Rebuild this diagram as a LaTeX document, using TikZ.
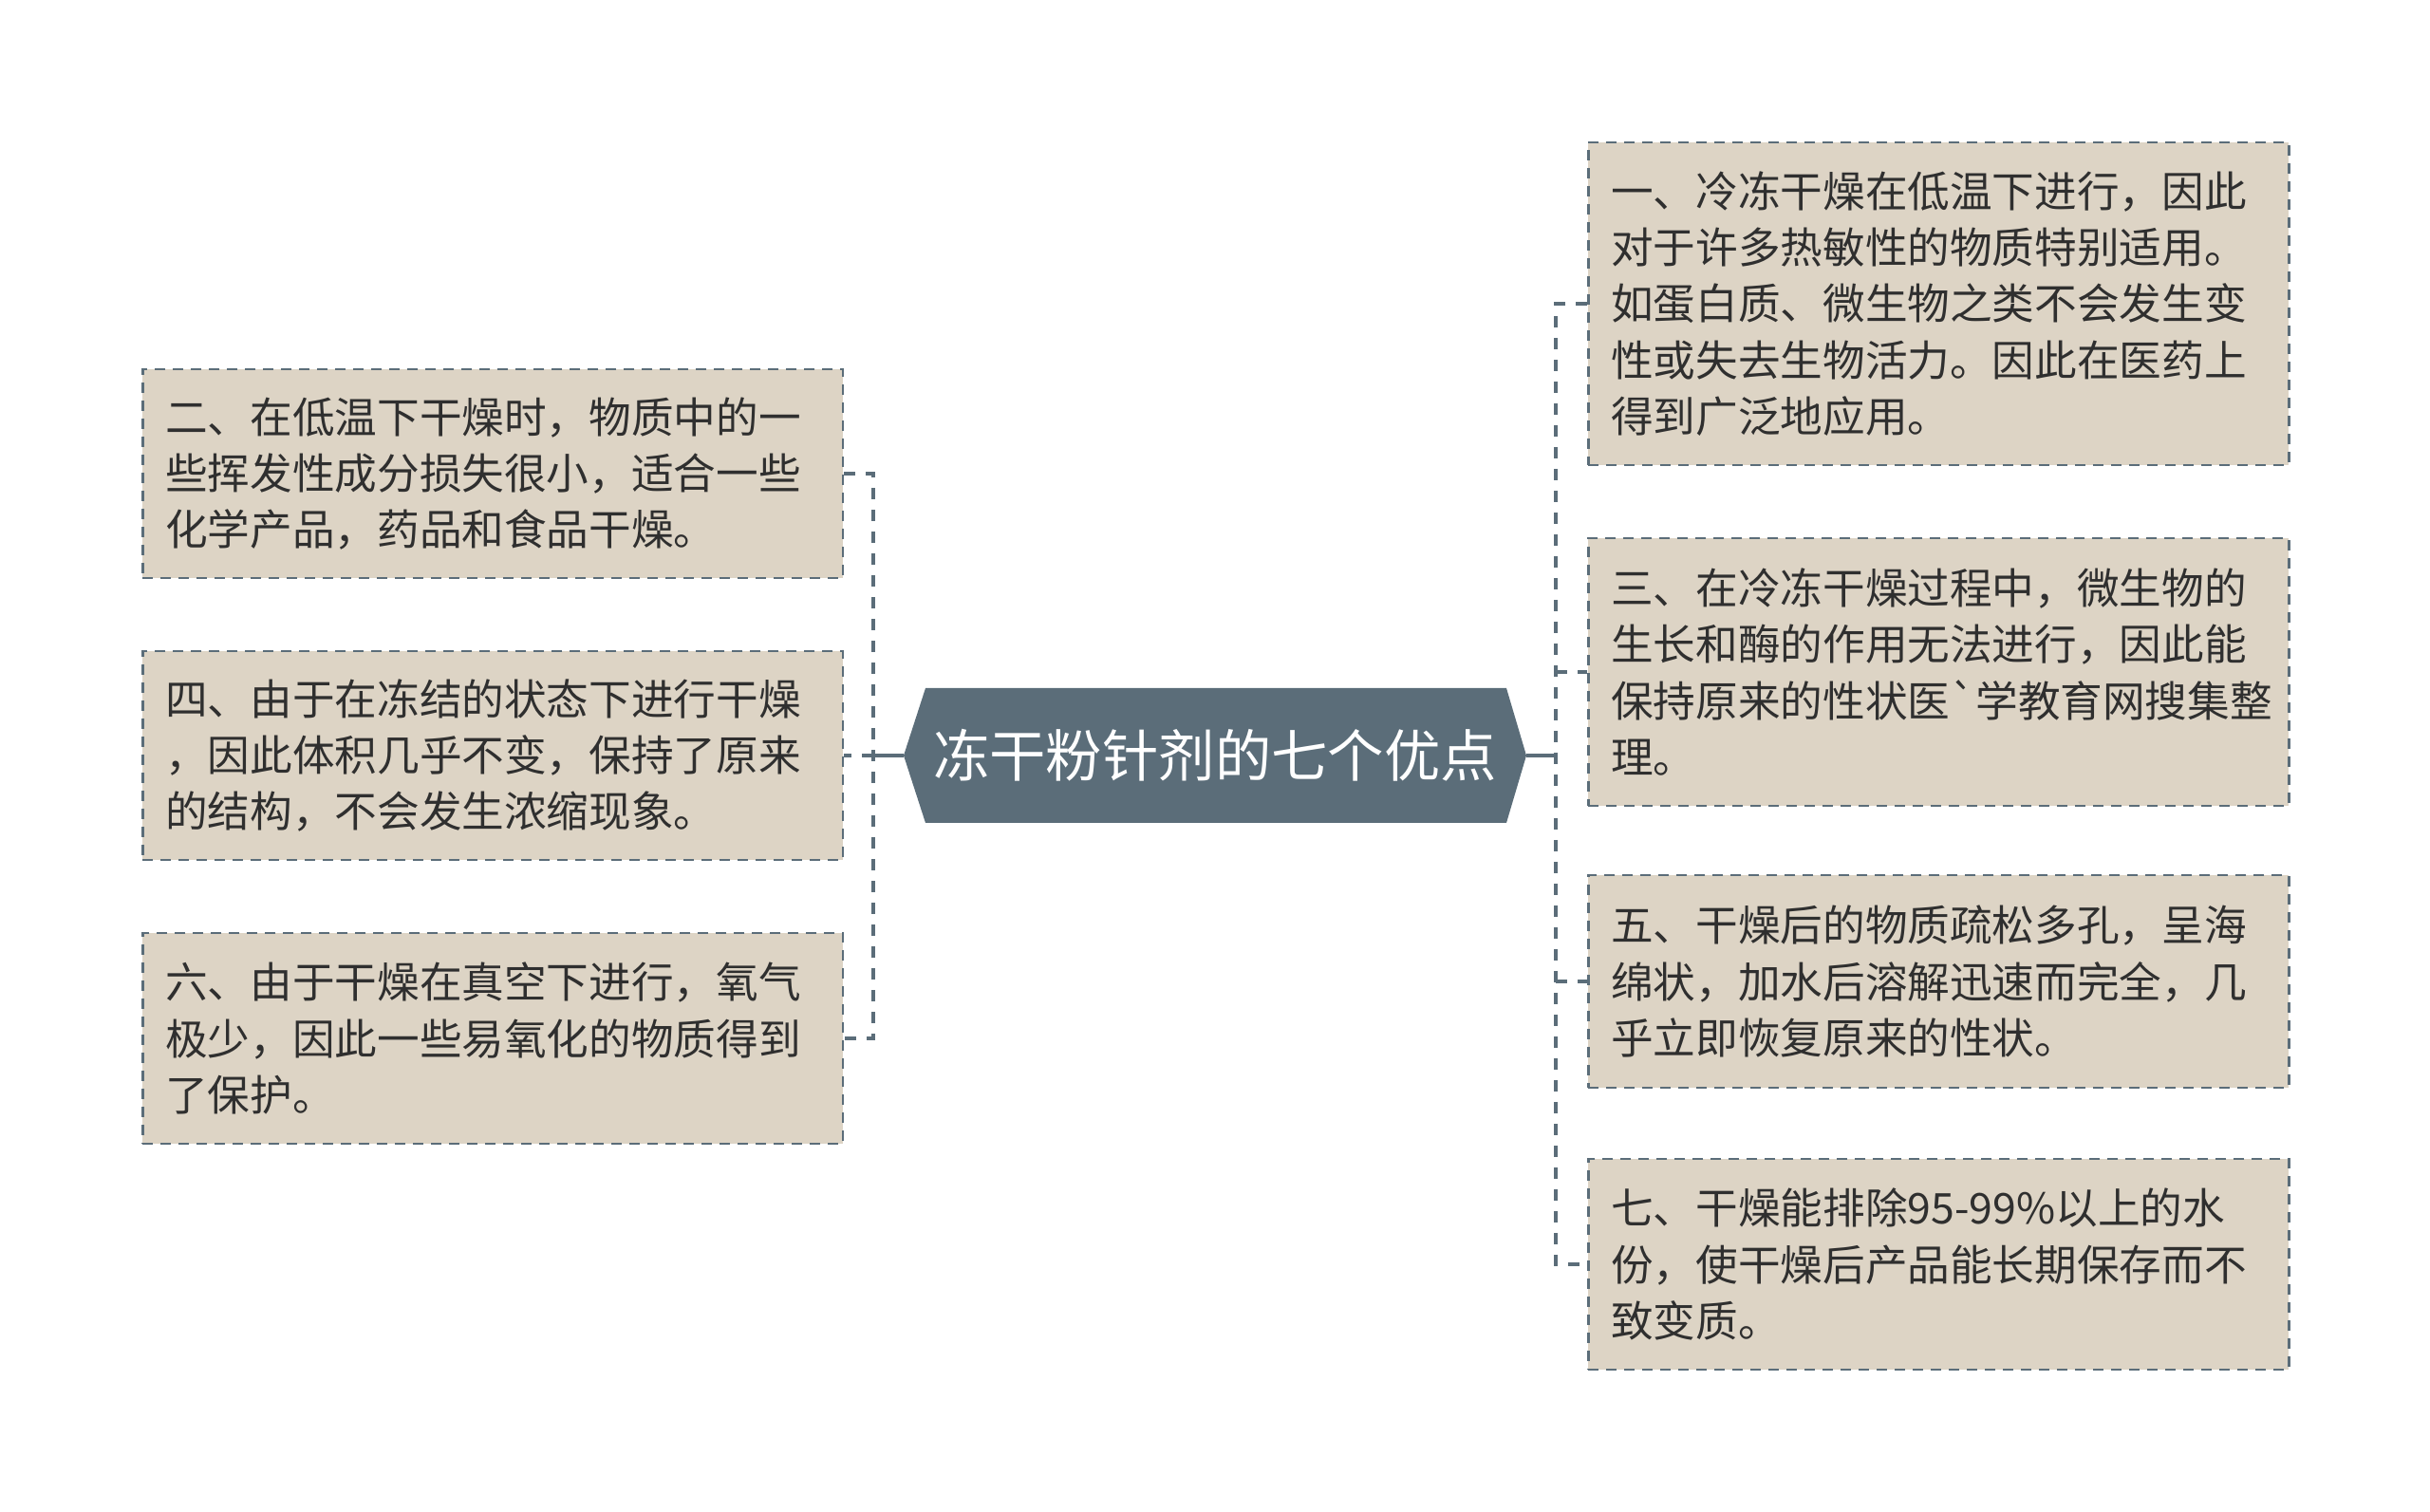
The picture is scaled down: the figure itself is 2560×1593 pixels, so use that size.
\documentclass[tikz,border=0pt]{standalone}
\usepackage{fontspec}
\newfontfamily\cjk{Noto Sans CJK SC}
\definecolor{leafbg}{RGB}{221,212,197}
\definecolor{slate}{RGB}{91,109,121}
\definecolor{ink}{RGB}{47,47,47}

\begin{document}
\begin{tikzpicture}[x=0.1mm,y=-0.1mm,
	leaf/.style={draw=slate, fill=leafbg, line width=0.25mm, dash pattern=on 1.1mm off 0.8mm, text=ink, anchor=west, minimum width=73.8mm, text width=69mm, inner xsep=2.4mm, inner ysep=0mm, align=left, font=\cjk\fontsize{12.7pt}{16.9pt}\selectfont},
	link/.style={draw=slate, line width=0.35mm, dash pattern=on 1.2mm off 1.1mm},
	trunk/.style={draw=slate, line width=0.4mm}]
	
	\useasboundingbox (0,0) rectangle (2560,1593);
	
	% centre
	\coordinate (tipL) at (952,796);
	\coordinate (tipR) at (1608,796);
	\fill[slate] (tipL) -- (975,725) -- (1587,725) -- (tipR) -- (1587,867) -- (975,867) -- cycle;
	\node[text=white, font=\cjk\fontsize{16.9pt}{20pt}\selectfont] (title) at (1280,796) {冻干粉针剂的七个优点};
	
	% left side
	\node[leaf, minimum height=22mm] (l1) at (149,499) {二、在低温下干燥时，物质中的一\\些挥发性成分损失很小，适合一些\\化学产品，药品和食品干燥。};
	\node[leaf, minimum height=22mm] (l2) at (149,796) {四、由于在冻结的状态下进行干燥\\，因此体积几乎不变，保持了原来\\的结构，不会发生浓缩现象。};
	\node[leaf, minimum height=22.2mm] (l3) at (149,1094) {六、由于干燥在真空下进行，氧气\\极少，因此一些易氧化的物质得到\\了保护。};
	
	% right side
	\node[leaf, minimum height=34mm] (r1) at (1672,320) {一、冷冻干燥在低温下进行，因此\\对于许多热敏性的物质特别适用。\\如蛋白质、微生物之类不会发生变\\性或失去生物活力。因此在医药上\\得到广泛地应用。};
	\node[leaf, minimum height=28.2mm] (r2) at (1672,708) {三、在冷冻干燥过程中，微生物的\\生长和酶的作用无法进行，因此能\\保持原来的性状医`学教育网搜集整\\理。};
	\node[leaf, minimum height=22.4mm] (r3) at (1672,1034) {五、干燥后的物质疏松多孔，呈海\\绵状，加水后溶解迅速而完全，几\\乎立即恢复原来的性状。};
	\node[leaf, minimum height=22.2mm] (r4) at (1672,1332) {七、干燥能排除95-99\%以上的水\\份，使干燥后产品能长期保存而不\\致变质。};
	
	% connectors
	\coordinate (jl) at (920,796);
	\coordinate (jr) at (1639,796);
	\draw[trunk] (tipL) -- (jl);
	\draw[link] (l1.east) -| (jl) |- (l3.east);
	\draw[link] (jl) -- (l2.east);
	\draw[trunk] (tipR) -- (jr);
	\draw[link] (r1.west) -| (jr) |- (r4.west);
	\draw[link] (jr |- r2.west) -- (r2.west);
	\draw[link] (jr |- r3.west) -- (r3.west);
	
\end{tikzpicture}
\end{document}
